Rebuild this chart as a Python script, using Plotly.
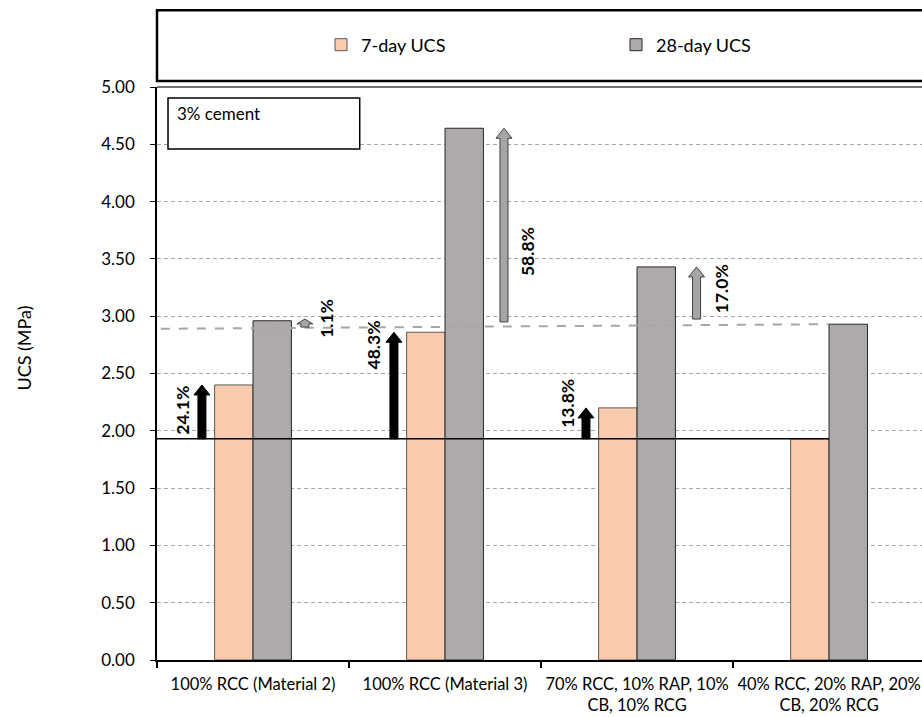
import plotly.graph_objects as go

# ---- data ----
categories = [
    "100% RCC (Material 2)",
    "100% RCC (Material 3)",
    "70% RCC, 10% RAP, 10%<br>CB, 10% RCG",
    "40% RCC, 20% RAP, 20%<br>CB, 20% RCG",
]
ucs_7day = [2.40, 2.86, 2.20, 1.93]
ucs_28day = [2.96, 4.64, 3.43, 2.93]
gain_7day = ["24.1%", "48.3%", "13.8%"]   # vs. 7-day UCS of the last mix
gain_28day = ["1.1%", "58.8%", "17.0%"]   # vs. 28-day UCS of the last mix
y_ticks = [0, 0.5, 1, 1.5, 2, 2.5, 3, 3.5, 4, 4.5, 5]
y_ticktext = [f"{v:.2f}" for v in y_ticks]

base7 = ucs_7day[-1]
base28 = ucs_28day[-1]

FONT = "Lato, 'Open Sans', sans-serif"
C7 = "#F8CBAD"
C28 = "#AEAAAA"

fig = go.Figure()
fig.add_trace(go.Bar(name="7-day UCS", x=categories, y=ucs_7day,
                     marker=dict(color=C7, line=dict(color="#595959", width=1))))
fig.add_trace(go.Bar(name="28-day UCS", x=categories, y=ucs_28day,
                     marker=dict(color=C28, line=dict(color="#262626", width=1))))

# pixel -> data scale helpers (fixed figure size)
PX_X = 765 / 3.984   # px per category unit
PX_Y = 573 / 5.0     # px per MPa


def arrow_path(xc, yb, yt, shaft_px=8, head_px=16, head_h_px=10):
    sw = shaft_px / 2 / PX_X
    hw = head_px / 2 / PX_X
    hh = min(head_h_px / PX_Y, 0.6 * (yt - yb))
    return (f"M {xc - sw},{yb} L {xc - sw},{yt - hh} L {xc - hw},{yt - hh} "
            f"L {xc},{yt} L {xc + hw},{yt - hh} L {xc + sw},{yt - hh} "
            f"L {xc + sw},{yb} Z")


shapes = []
annotations = []

# reference lines
shapes.append(dict(type="line", xref="x", yref="y", x0=-0.5, x1=len(categories) - 1,
                   y0=base7, y1=base7, line=dict(color="black", width=1.5), layer="above"))
shapes.append(dict(type="line", xref="x", yref="y", x0=-0.48, x1=len(categories) - 1,
                   y0=base28 - 0.04, y1=base28, line=dict(color="#A6A6A6", width=2, dash="dash"),
                   layer="above"))

# 7-day gain arrows (black)
for i, txt in enumerate(gain_7day):
    xc = i - 0.266
    shapes.append(dict(type="path", xref="x", yref="y", path=arrow_path(xc, base7, ucs_7day[i]),
                       fillcolor="black", line=dict(color="black", width=1), layer="above"))
lab_pos_7 = [(0 - 0.367, 2.18), (1 - 0.372, 2.75), (2 - 0.362, 2.24)]
for (x, y), txt in zip(lab_pos_7, gain_7day):
    annotations.append(dict(x=x, y=y, text=f"<b>{txt}</b>"))

# 28-day gain arrows (grey)
gray_x = [0.27, 1.307, 2.31]
gray_base_off = [-0.025, 0.02, 0.045]
for i, txt in enumerate(gain_28day):
    shapes.append(dict(type="path", xref="x", yref="y",
                       path=arrow_path(gray_x[i], base28 + gray_base_off[i],
                                       ucs_28day[i] + (0.015 if i == 0 else 0)),
                       fillcolor="#A6A6A6", line=dict(color="#404040", width=1), layer="above"))
lab_pos_28 = [(0 + 0.385, 2.985), (1 + 0.427, 3.56), (2 + 0.44, 3.24)]
for (x, y), txt in zip(lab_pos_28, gain_28day):
    annotations.append(dict(x=x, y=y, text=f"<b>{txt}</b>"))
for a in annotations:
    a.update(xref="x", yref="y", showarrow=False, textangle=-90,
             font=dict(family=FONT, size=17.5, color="black"))

# legend frame
shapes.append(dict(type="rect", xref="paper", yref="paper", x0=0, x1=1.02,
                   y0=1.0105, y1=1.134, line=dict(color="black", width=2.5)))
# plot-area top border
shapes.append(dict(type="line", xref="paper", yref="paper", x0=0, x1=1.02, y0=1.0, y1=1.0,
                   line=dict(color="#404040", width=1.5)))
# "3% cement" box
shapes.append(dict(type="rect", xref="paper", yref="paper", x0=0.0144, x1=0.265,
                   y0=0.892, y1=0.981, line=dict(color="black", width=1.5),
                   fillcolor="white", layer="above"))
annotations.append(dict(xref="paper", yref="paper", x=0.0235, y=0.953, xanchor="left",
                        yanchor="middle", text="3% cement", showarrow=False,
                        font=dict(family=FONT, size=17, color="black")))
# y-axis title
annotations.append(dict(xref="paper", yref="paper", x=-0.174, y=0.545, text="UCS (MPa)",
                        xanchor="center", yanchor="middle",
                        textangle=-90, showarrow=False,
                        font=dict(family=FONT, size=18, color="black")))

fig.update_layout(
    width=922, height=717,
    margin=dict(l=157, r=0, t=87, b=57, autoexpand=False),
    paper_bgcolor="white", plot_bgcolor="white",
    barmode="group", bargap=0.6, bargroupgap=0,
    font=dict(family=FONT, size=17, color="black"),
    legend=dict(orientation="h", xref="container", yref="container",
                x=321 / 922, xanchor="left", y=(717 - 45) / 717, yanchor="middle",
                entrywidth=250, entrywidthmode="pixels",
                font=dict(family=FONT, size=18, color="black"), bgcolor="rgba(0,0,0,0)"),
    shapes=shapes,
    annotations=annotations,
)
fig.update_xaxes(type="category", range=[-0.5, 3.484], tickson="boundaries",
                 ticks="outside", ticklen=6, tickwidth=1.5, tickcolor="black",
                 showline=True, linecolor="black", linewidth=2, showgrid=False,
                 tickangle=0, automargin=False, ticklabelstandoff=8,
                 tickfont=dict(family=FONT, size=16.5, color="black"), fixedrange=True)
fig.update_yaxes(range=[0, 5], tickvals=y_ticks, ticktext=y_ticktext,
                 ticks="outside", ticklen=5, tickwidth=1, tickcolor="black",
                 showline=True, linecolor="black", linewidth=1.5,
                 showgrid=True, gridcolor="#A6A6A6", gridwidth=1, griddash="4px,3px",
                 zeroline=False, ticklabelstandoff=12, automargin=False,
                 tickfont=dict(family=FONT, size=17, color="black"), fixedrange=True)

fig.write_html("out.html", config={"displayModeBar": False},
               post_script="document.body.style.margin='0';document.body.style.overflow='hidden';")
